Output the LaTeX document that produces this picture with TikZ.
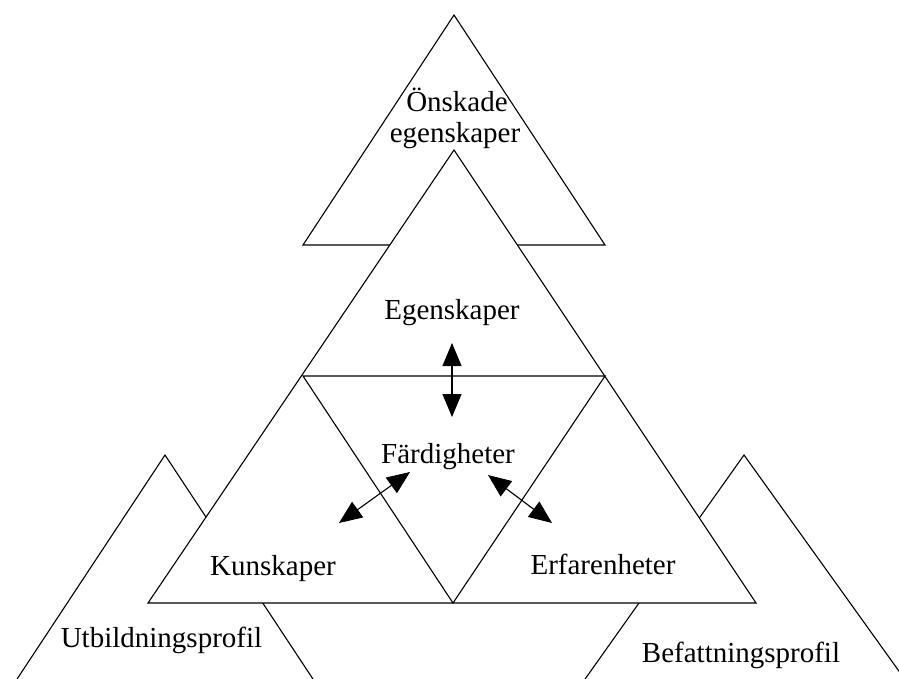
\documentclass[tikz,border=0pt]{standalone}
\usepackage{fontspec}
\setmainfont{Liberation Serif}
\usetikzlibrary{arrows.meta}
\begin{document}
\begin{tikzpicture}[x=1pt,y=-1pt,
  tri/.style={draw=black,line width=1.1pt,fill=white,line join=miter},
  lbl/.style={anchor=base,inner sep=0pt,font=\fontsize{29}{34}\selectfont},
  dbl/.style={line width=1.1pt,{Triangle[length=23pt,width=19pt]}-{Triangle[length=23pt,width=19pt]}}]
\useasboundingbox (0,0) rectangle (899,679);
\clip (0,0) rectangle (899,679);
\fill[white] (0,0) rectangle (899,679);
% bottom left triangle
\coordinate (la) at (165,455);
\coordinate (ll) at (-10,720);
\coordinate (lr) at (340,720);
\draw[tri] (la) -- (ll) -- (lr) -- cycle;
% bottom right triangle
\coordinate (ra) at (744,455);
\coordinate (rl) at (556,720);
\coordinate (rr) at (934,720);
\draw[tri] (ra) -- (rl) -- (rr) -- cycle;
% top triangle
\coordinate (ta) at (454,15);
\coordinate (tl) at (303,245);
\coordinate (tr) at (605,245);
\draw[tri] (ta) -- (tl) -- (tr) -- cycle;
% big triangle
\coordinate (ba) at (454,150);
\coordinate (bl) at (148,603);
\coordinate (br) at (756,603);
\coordinate (ml) at (303,376);
\coordinate (mr) at (605,376);
\coordinate (mb) at (453,603);
\draw[tri] (ba) -- (bl) -- (br) -- cycle;
\draw[tri] (ml) -- (mr) -- (mb) -- cycle;
% labels
\node[lbl] (onsk1) at (457,112) {Önskade};
\node[lbl] (onsk2) at (455,143) {egenskaper};
\node[lbl] (egen) at (452,319) {Egenskaper};
\node[lbl] (fard) at (448,463) {Färdigheter};
\node[lbl] (kuns) at (273,575) {Kunskaper};
\node[lbl] (erf) at (603,574) {Erfarenheter};
\node[lbl] (utb) at (161.5,647) {Utbildningsprofil};
\node[lbl] (bef) at (741,662) {Befattningsprofil};
% arrows
\coordinate (v1) at (452,343);
\coordinate (v2) at (452,417);
\draw[dbl] (v1) -- (v2);
\coordinate (a1) at (410,472);
\coordinate (a2) at (339,523);
\draw[dbl] (a1) -- (a2);
\coordinate (b1) at (488,475);
\coordinate (b2) at (552,523);
\draw[dbl] (b1) -- (b2);
\end{tikzpicture}
\end{document}
